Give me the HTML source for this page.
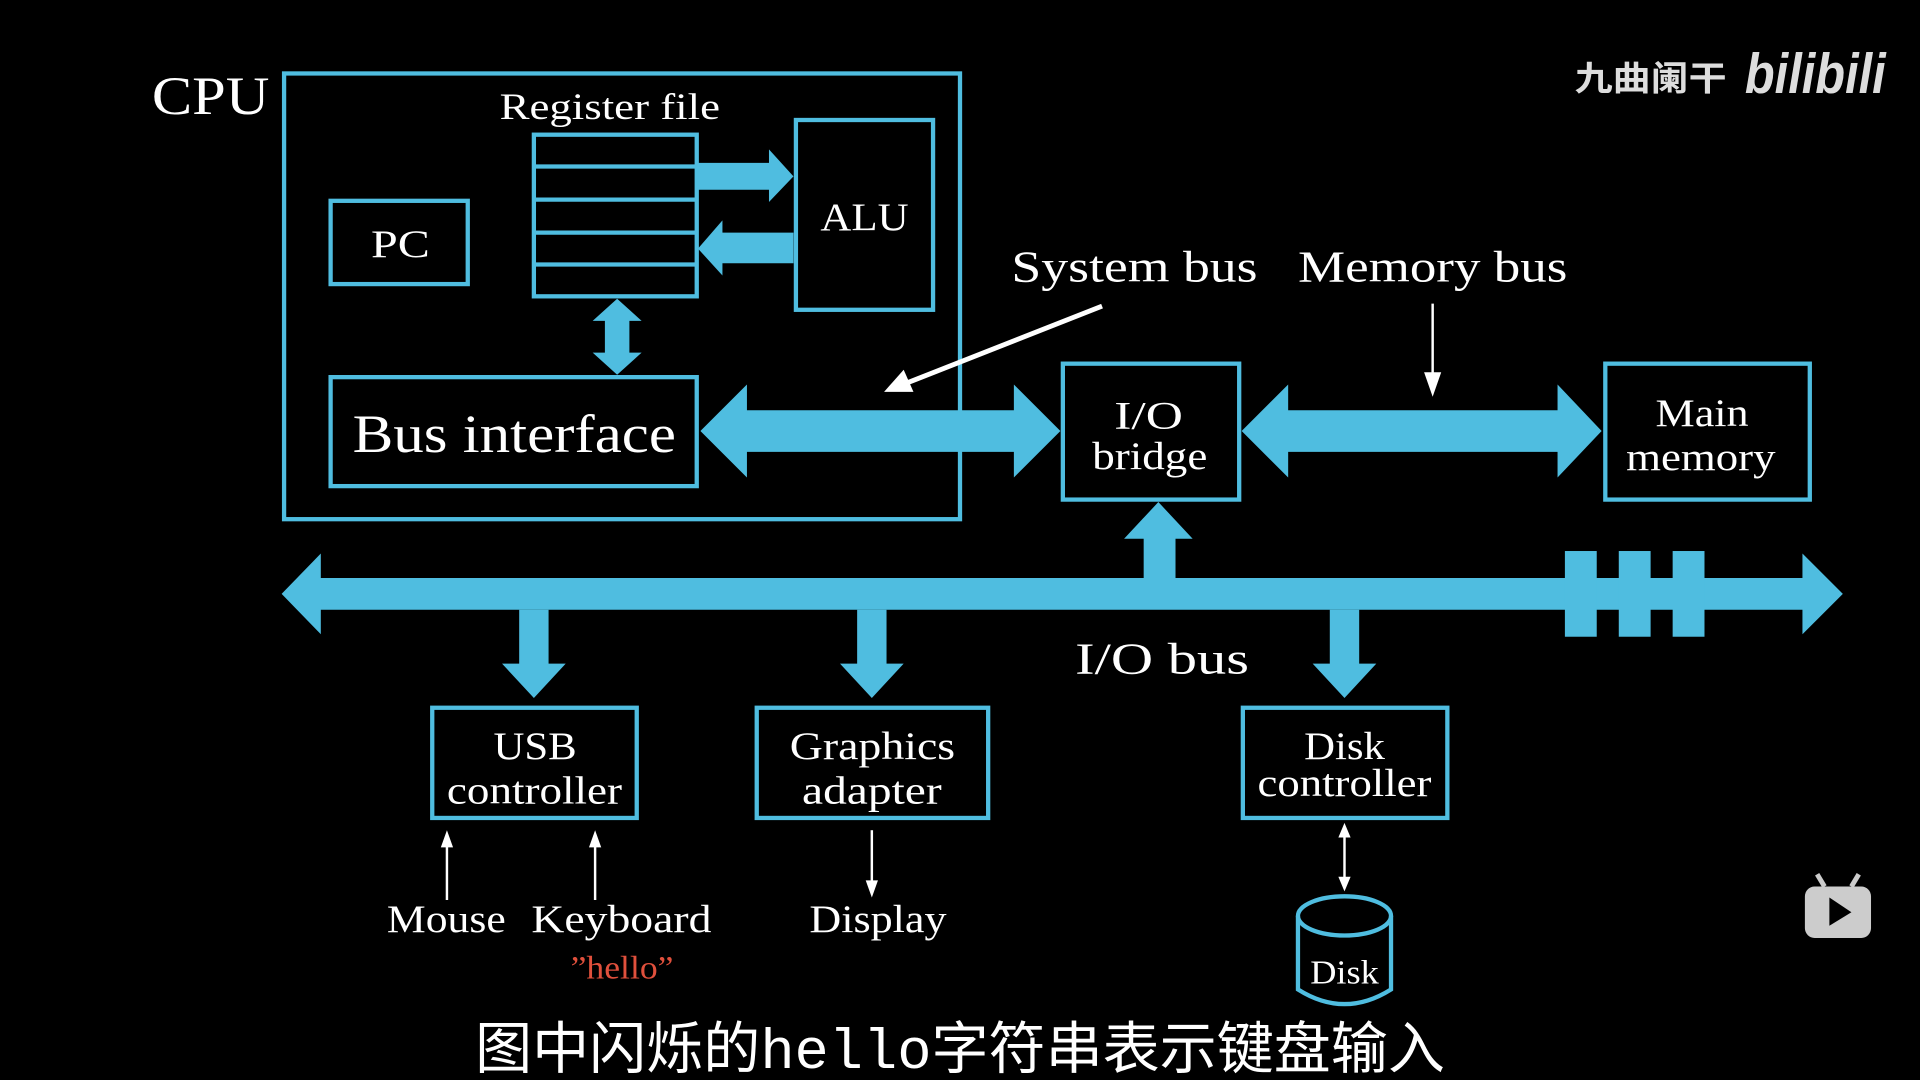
<!DOCTYPE html>
<html><head><meta charset="utf-8"><style>
html,body{margin:0;padding:0;background:#000;width:1920px;height:1080px;overflow:hidden}
svg{display:block}
text{font-family:"Liberation Serif",serif;fill:#fff}
</style></head><body>
<svg width="1920" height="1080" viewBox="0 0 1568 882" xmlns="http://www.w3.org/2000/svg">
<rect width="1568" height="882" fill="#000"/>
<g fill="none" stroke="#4fbde0" stroke-width="3.5">
<rect x="232" y="60" width="552" height="364"/>
<rect x="436" y="110" width="133" height="132"/>
<line x1="436" y1="136" x2="569" y2="136"/><line x1="436" y1="163" x2="569" y2="163"/>
<line x1="436" y1="190" x2="569" y2="190"/><line x1="436" y1="216" x2="569" y2="216"/>
<rect x="650" y="98" width="112" height="155"/>
<rect x="270" y="164" width="112" height="68"/>
<rect x="270" y="308" width="299" height="89"/>
<rect x="868" y="297" width="144" height="111"/>
<rect x="1311" y="297" width="167" height="111"/>
<rect x="353" y="578" width="167" height="90"/>
<rect x="618" y="578" width="189" height="90"/>
<rect x="1015" y="578" width="167" height="90"/>
<path d="M1060 748 V808 Q1098 832 1136 808 V748"/>
<ellipse cx="1098" cy="748" rx="38" ry="16"/>
</g>
<g fill="#4fbde0">
<polygon points="569,133 628,133 628,122 648,144 628,165 628,155 569,155"/>
<polygon points="648,190 590,190 590,180 570,203 590,225 590,215 648,215"/>
<polygon points="504,244 524,262 514,262 514,288 524,288 504,306 484,288 494,288 494,262 484,262"/>
<polygon points="572,352 610,314 610,335 828,335 828,314 866,352 828,390 828,369 610,369 610,390"/>
<polygon points="1014,352 1052,314 1052,335 1272,335 1272,314 1308,352 1272,390 1272,369 1052,369 1052,390"/>
<polygon points="230,485 262,452 262,472 1472,472 1472,452 1505,485 1472,518 1472,498 262,498 262,518"/>
<polygon points="934,472 934,440 918,440 946,410 974,440 960,440 960,472"/>
<rect x="1278" y="450" width="26" height="70"/><rect x="1322" y="450" width="26" height="70"/><rect x="1366" y="450" width="26" height="70"/>
<polygon points="424,498 448,498 448,542 462,542 436,570 410,542 424,542"/>
<polygon points="700,498 724,498 724,542 738,542 712,570 686,542 700,542"/>
<polygon points="1086,498 1110,498 1110,542 1124,542 1098,570 1072,542 1086,542"/>
</g>
<g stroke="#fff" stroke-width="2" fill="#fff">
<line x1="365" y1="735" x2="365" y2="688"/><polygon points="365,678 360,692 370,692" stroke="none"/>
<line x1="486" y1="735" x2="486" y2="688"/><polygon points="486,678 481,692 491,692" stroke="none"/>
<line x1="712" y1="678" x2="712" y2="722"/><polygon points="712,733 707,719 717,719" stroke="none"/>
<line x1="1098" y1="680" x2="1098" y2="720"/><polygon points="1098,672 1093,684 1103,684" stroke="none"/><polygon points="1098,728 1093,716 1103,716" stroke="none"/>
<line x1="1170" y1="248" x2="1170" y2="308"/><polygon points="1170,324 1163,304 1177,304" stroke="none"/>
<line x1="900" y1="250" x2="740" y2="313" stroke-width="4"/><polygon points="722,320 738,302 746,320" stroke="none"/>
</g>
<g lengthAdjust="spacingAndGlyphs">
<text x="124" y="93" font-size="44" textLength="96" lengthAdjust="spacingAndGlyphs">CPU</text>
<text x="408" y="97" font-size="30" textLength="180" lengthAdjust="spacingAndGlyphs">Register file</text>
<text x="670" y="188" font-size="32" textLength="72" lengthAdjust="spacingAndGlyphs">ALU</text>
<text x="303" y="210" font-size="32" textLength="48" lengthAdjust="spacingAndGlyphs">PC</text>
<text x="288" y="369" font-size="44" textLength="264" lengthAdjust="spacingAndGlyphs">Bus interface</text>
<text x="826" y="230" font-size="36" textLength="201" lengthAdjust="spacingAndGlyphs">System bus</text>
<text x="1060" y="230" font-size="36" textLength="220" lengthAdjust="spacingAndGlyphs">Memory bus</text>
<text x="910" y="350" font-size="32" textLength="56" lengthAdjust="spacingAndGlyphs">I/O</text>
<text x="892" y="383" font-size="32" textLength="94" lengthAdjust="spacingAndGlyphs">bridge</text>
<text x="1352" y="348" font-size="32" textLength="76" lengthAdjust="spacingAndGlyphs">Main</text>
<text x="1328" y="384" font-size="32" textLength="122" lengthAdjust="spacingAndGlyphs">memory</text>
<text x="878" y="550" font-size="36" textLength="142" lengthAdjust="spacingAndGlyphs">I/O bus</text>
<text x="403" y="620" font-size="32" textLength="68" lengthAdjust="spacingAndGlyphs">USB</text>
<text x="365" y="656" font-size="32" textLength="143" lengthAdjust="spacingAndGlyphs">controller</text>
<text x="645" y="620" font-size="32" textLength="135" lengthAdjust="spacingAndGlyphs">Graphics</text>
<text x="655" y="656" font-size="32" textLength="114" lengthAdjust="spacingAndGlyphs">adapter</text>
<text x="1065" y="620" font-size="32" textLength="66" lengthAdjust="spacingAndGlyphs">Disk</text>
<text x="1027" y="650" font-size="32" textLength="142" lengthAdjust="spacingAndGlyphs">controller</text>
<text x="316" y="761" font-size="32" textLength="97" lengthAdjust="spacingAndGlyphs">Mouse</text>
<text x="434" y="761" font-size="32" textLength="147" lengthAdjust="spacingAndGlyphs">Keyboard</text>
<text x="466" y="799" font-size="27" textLength="84" lengthAdjust="spacingAndGlyphs" style="fill:#e0503c">”hello”</text>
<text x="661" y="761" font-size="32" textLength="112" lengthAdjust="spacingAndGlyphs">Display</text>
<text x="1070" y="803" font-size="28" textLength="56" lengthAdjust="spacingAndGlyphs">Disk</text>
<text x="388" y="872" font-size="46" textLength="792" lengthAdjust="spacingAndGlyphs" style='font-family:"Liberation Sans","Noto Sans CJK SC",sans-serif'>图中闪烁的<tspan style='font-family:"Liberation Mono",monospace'>hello</tspan>字符串表示键盘输入</text>
<text x="1286" y="74" font-size="28" textLength="124" lengthAdjust="spacingAndGlyphs" style='font-family:"Liberation Sans","Noto Sans CJK SC",sans-serif;fill:#ddd;font-weight:bold'>九曲阑干</text>
<text x="1425" y="76" font-size="46" textLength="115" lengthAdjust="spacingAndGlyphs" style='font-family:"Liberation Sans",sans-serif;fill:#ddd;font-weight:bold;font-style:italic'>bilibili</text>
</g>
<g fill="#ccc"><rect x="1474" y="724" width="54" height="42" rx="8"/><line x1="1490" y1="724" x2="1484" y2="714" stroke="#ccc" stroke-width="4"/><line x1="1512" y1="724" x2="1518" y2="714" stroke="#ccc" stroke-width="4"/></g>
<polygon points="1494,733 1494,756 1512,745" fill="#000"/>
</svg>
</body></html>
